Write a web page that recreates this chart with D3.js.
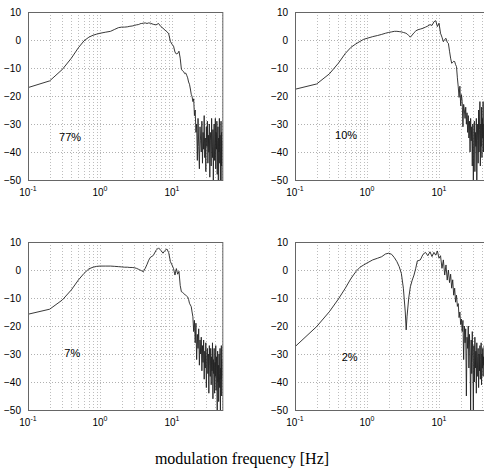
<!DOCTYPE html>
<html><head><meta charset="utf-8">
<script src="https://cdn.jsdelivr.net/npm/d3@7"></script>
<style>body{margin:0;background:#fff}svg{display:block}</style>
</head><body>
<script>
// ---- data ----
const lowFreq = [0.1,0.2,0.3,0.4,0.5,0.6,0.7,0.8,0.9,1.0,
  1.2,1.4,1.6,1.8,2.0,2.2,2.4,2.6,2.8,3.0,
  3.2,3.4,3.5,3.6,3.8,4.0,
  4.25,4.5,4.75,5.0,
  5.5,6.0,6.5,7.0,7.5,8.0,8.5,9.0,9.5,10,
  10.5,11,11.5,12,12.5,13,13.5];
const highFreq = [14,14.5,15,15.5,16,16.5,17,17.5,18,18.5,
  19,19.5,20,20.5,21,21.5,22,22.5,23,23.5,
  24,24.5,25,25.5,26,26.5,27,27.5,28,28.5,
  29,29.5,30,30.5,31,31.5,32,32.5,33,33.5,
  34,34.5,35,35.5,36,36.5,37,37.5,38,38.5,
  39,39.5,40,40.5,41,41.5,42,42.5,43,43.5,
  44,44.5,45,45.5,46,46.5,47,47.5,48,48.5,
  49,49.5,50];

const low77 = [-17,-14.6,-10.5,-6.5,-2.8,-0.3,1.0,1.7,2.1,2.4,
  2.8,3.1,3.8,4.4,4.6,4.6,4.7,4.9,5.0,5.2,
  5.4,5.5,5.6,5.8,5.9,6.0,
  6.1,5.9,6.1,6.0,
  5.6,5.4,5.9,4.8,4.2,3.5,3.0,2.2,-0.5,-1.5,
  -2.2,-4.3,-5.0,-4.8,-4.0,-6.5,-10.4];
const high77 = [-11,-11.3,-12,-11.8,-12.6,-13.5,-15.0,-15.8,-17.5,-19.4,
  -20.2,-22,-21,-27,-25,-33,-30,-43,-28,-38,
  -46,-31,-36,-40,-29,-44,-33,-39,-27,-42,
  -35,-47,-31,-38,-29,-44,-34,-40,-30,-49,
  -36,-33,-45,-28,-38,-42,-32,-50,-35,-30,
  -43,-37,-28,-46,-33,-39,-29,-48,-36,-31,
  -50,-35,-40,-28,-44,-34,-50,-38,-29,-45,
  -33,-50,-36];

const low10 = [-17.6,-15.7,-12.1,-8.3,-4.8,-2.6,-1.4,-0.5,0.25,0.6,
  1.2,1.6,2.0,2.4,2.7,2.9,3.1,3.1,3.0,2.9,
  2.7,2.5,2.35,2.2,1.6,1.0,
  1.8,2.6,3.2,3.6,
  3.9,4.2,4.6,5.0,5.5,5.2,6.5,6.9,4.8,6.0,
  2.4,1.0,-0.6,0.2,0.6,-0.8,-1.2];
const high10 = [-4.0,-6.5,-8.3,-8.0,-7.6,-7.7,-8.8,-9.5,-13.5,-16.7,
  -20.5,-16.5,-23.5,-19.5,-22,-31,-23,-25,-28,-24,
  -30,-26,-33,-27,-35,-29,-40,-28,-36,-31,
  -45,-30,-50,-34,-29,-47,-33,-38,-28,-50,
  -36,-30,-44,-25,-40,-32,-22,-45,-30,-38,
  -24,-42,-28,-35,-22,-40,-30,-36,-27,-44,
  -31,-38,-26,-46,-33,-40,-29,-48,-35,-30,
  -44,-37,-32];

const low7 = [-15.8,-14.0,-10.7,-7.1,-3.6,-1.2,0.4,1.0,1.3,1.4,
  1.4,1.4,1.3,1.2,1.1,1.0,1.0,0.9,0.9,0.8,
  0.6,0.3,0.15,0.0,-0.3,-0.6,
  0.6,2.0,3.5,4.5,
  5.2,7.0,7.9,7.0,6.0,7.0,7.5,6.2,3.0,1.8,
  0.5,-1.8,0.5,-1.5,-0.5,-5.5,-7.75];
const high7 = [-8.0,-8.3,-8.8,-9.0,-9.3,-9.6,-10.5,-11.9,-12.5,-13.1,
  -15,-16.7,-22,-18,-26,-19,-32,-23,-28,-21,
  -34,-25,-30,-24,-36,-27,-33,-25,-39,-29,
  -35,-26,-42,-31,-28,-37,-30,-44,-27,-34,
  -38,-28,-41,-31,-36,-26,-46,-32,-37,-28,
  -44,-33,-38,-27,-43,-31,-36,-50,-29,-40,
  -34,-47,-30,-37,-42,-28,-50,-35,-39,-27,
  -45,-32,-38];

const low2 = [-27.4,-20.2,-14.9,-10.4,-6.5,-3.0,-0.6,1.0,1.8,2.5,
  3.6,4.2,4.75,5.7,6.0,5.6,4.4,3.0,1.2,-1.2,
  -6.5,-15,-21.4,-16.5,-10,-6.0,
  -3.6,-1.8,0.6,3.2,
  3.6,5.6,6.3,5.1,6.5,4.8,6.3,5.3,6.8,4.2,
  5.1,0.6,3.6,-1.8,1.8,-3.6,0];
const high2 = [-4.5,-1.5,-6.5,-3.5,-9.0,-6.5,-11.5,-9.0,-13,-12,
  -17,-15,-19.5,-17.5,-22,-18,-32,-20,-26,-21,
  -45,-24,-28,-20,-35,-23,-30,-50,-25,-37,
  -22,-33,-50,-27,-40,-24,-35,-29,-44,-26,
  -38,-31,-28,-42,-30,-36,-27,-39,-32,-26,
  -41,-30,-35,-28,-38,-31,-34,-27,-40,-30,
  -36,-29,-42,-32,-37,-28,-39,-31,-35,-30,
  -41,-33,-36];

const panelLabels = ["77%","10%","7%","2%"];
const labelFreq = [0.27,0.36,0.32,0.445];
const labelDb = [-36.2,-35.5,-31.2,-32.5];
const yTicks = [10,0,-10,-20,-30,-40,-50];
const xTickExps = [-1,0,1];
const xTitle = "modulation frequency [Hz]";

// ---- layout ----
const W = 484, H = 475;
const svg = d3.select("body").append("svg").attr("width", W).attr("height", H);
const freqs = lowFreq.concat(highFreq);
const panels = [
  {lo: low77, hi: high77, left: 28, top: 12},
  {lo: low10, hi: high10, left: 295, top: 12},
  {lo: low7, hi: high7, left: 28, top: 242},
  {lo: low2, hi: high2, left: 295, top: 242}
];
const pw = 72 * Math.log10(500), ph = 168;

const gridF = [];
[0.1, 1, 10].forEach(d => { for (let k = 1; k <= 9; k++) { const v = +(k * d).toFixed(3); if (v > 0.1 && v <= 50) gridF.push(v); } });

panels.forEach((p, i) => {
  const x = d3.scaleLog().domain([0.1, 50]).range([p.left, p.left + pw]);
  const y = d3.scaleLinear().domain([-50, 10]).range([p.top + ph, p.top]);
  const g = svg.append("g");
  const cid = "clip" + i;
  svg.append("clipPath").attr("id", cid).append("rect")
    .attr("x", p.left).attr("y", p.top).attr("width", pw).attr("height", ph);

  // grid
  g.selectAll(".vg").data(gridF).join("line")
    .attr("x1", d => Math.round(x(d)) + 0.5).attr("x2", d => Math.round(x(d)) + 0.5)
    .attr("y1", p.top).attr("y2", p.top + ph)
    .attr("stroke", "#bdbdbd").attr("stroke-width", 1).attr("stroke-dasharray", "1,2");
  g.selectAll(".hg").data(yTicks.slice(1, -1)).join("line")
    .attr("x1", p.left).attr("x2", p.left + pw)
    .attr("y1", d => Math.round(y(d)) + 0.5).attr("y2", d => Math.round(y(d)) + 0.5)
    .attr("stroke", "#b0b0b0").attr("stroke-width", 1).attr("stroke-dasharray", "1,2");

  // data
  const vals = p.lo.concat(p.hi);
  const pts = freqs.map((f, j) => [f, vals[j]]);
  g.append("path").datum(pts)
    .attr("clip-path", `url(#${cid})`)
    .attr("fill", "none").attr("stroke", "#222").attr("stroke-width", 0.9)
    .attr("d", d3.line().x(d => x(d[0])).y(d => y(d[1])));

  // box
  g.append("rect").attr("x", p.left + 0.5).attr("y", p.top + 0.5).attr("width", pw).attr("height", ph)
    .attr("fill", "none").attr("stroke", "#666").attr("stroke-width", 1);

  // y axis
  const ya = g.append("g").attr("transform", `translate(${p.left},0)`)
    .call(d3.axisLeft(y).tickValues(yTicks).tickSize(0).tickPadding(7));
  ya.select(".domain").remove();
  ya.selectAll("text").attr("font-family", "Liberation Sans, Arial, sans-serif").attr("font-size", 10).attr("fill", "#000");

  // x axis labels (10^e)
  xTickExps.forEach(e => {
    const t = g.append("text").attr("x", x(Math.pow(10, e))).attr("y", p.top + ph + 16)
      .attr("text-anchor", "middle").attr("font-family", "Liberation Sans, Arial, sans-serif")
      .attr("font-size", 10).attr("fill", "#000");
    t.append("tspan").text("10");
    t.append("tspan").attr("dy", -5).attr("font-size", 7).text(String(e));
  });

  // panel label
  g.append("text").attr("x", x(labelFreq[i])).attr("y", y(labelDb[i]))
    .attr("font-family", "Liberation Sans, Arial, sans-serif").attr("font-size", 11)
    .attr("fill", "#000").text(panelLabels[i]);
});

svg.append("text").attr("x", 242).attr("y", 464).attr("text-anchor", "middle")
  .attr("font-family", "Liberation Serif, Times New Roman, serif").attr("font-size", 16)
  .attr("fill", "#000").text(xTitle);
</script>
</body></html>
